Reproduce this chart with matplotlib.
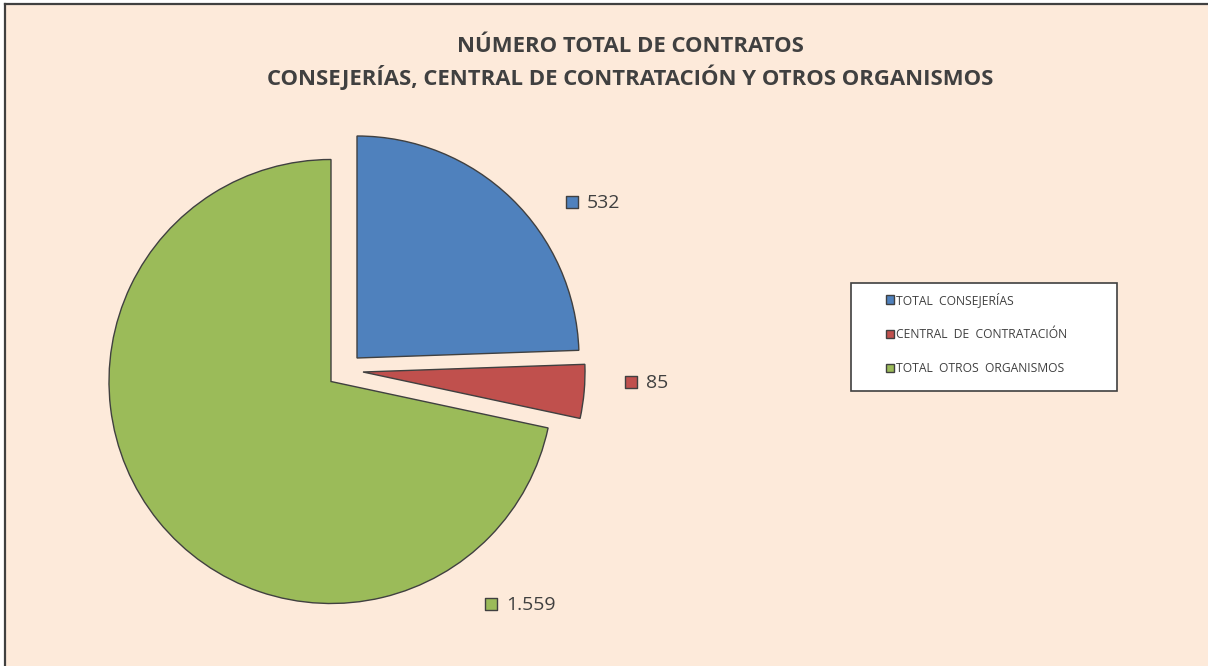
import matplotlib
matplotlib.use("Agg")
import matplotlib.pyplot as plt
from matplotlib.patches import Rectangle
from matplotlib.lines import Line2D

# ---- data ----
categories = ["TOTAL  CONSEJERÍAS", "CENTRAL  DE  CONTRATACIÓN", "TOTAL  OTROS  ORGANISMOS"]
values = [532, 85, 1559]
colors = ["#4F81BD", "#C0504D", "#9BBB59"]
title_lines = ["NÚMERO TOTAL DE CONTRATOS",
               "CONSEJERÍAS, CENTRAL DE CONTRATACIÓN Y OTROS ORGANISMOS"]

W, H = 1208, 666
BG = "#FDEADA"
EDGE = "#404040"
TXT = "#404040"

fig = plt.figure(figsize=(W / 100, H / 100), dpi=100, facecolor="white")
ax = fig.add_axes([0, 0, 1, 1])


def Y(y):
    return H - y


cx, cy, r = 331, Y(381.5), 222
wedges, _ = ax.pie(values, colors=colors, startangle=90, counterclock=False,
                   radius=r, center=(cx, cy), frame=True,
                   wedgeprops=dict(edgecolor=EDGE, linewidth=1.0))
# exploded slices (Excel-style offsets, in pixels)
slice_offsets = [(26, 23.5), (32, 9.5), (0, 0)]
for w, (dx, dy) in zip(wedges, slice_offsets):
    w.set_center((cx + dx, cy + dy))

ax.set_xlim(0, W)
ax.set_ylim(0, H)
ax.set_aspect("equal")
ax.axis("off")

# chart area background with border (left/top visible)
ax.add_patch(Rectangle((0, 0), W, H, facecolor=BG, edgecolor="none", zorder=0))
ax.add_patch(Rectangle((0, H - 3), W, 3, facecolor="white", edgecolor="none", zorder=0.5))
ax.add_patch(Rectangle((0, 0), 4, H, facecolor="white", edgecolor="none", zorder=0.5))
fig.add_artist(Line2D([4.5 / W, 4.5 / W], [0, 1 - 3.5 / H], color=EDGE, lw=1.6))
fig.add_artist(Line2D([4.5 / W, 1], [1 - 3.5 / H, 1 - 3.5 / H], color=EDGE, lw=1.6))

# title
for i, line in enumerate(title_lines):
    ax.text(630, Y(46.5 + 30.5 * i), line, ha="center", va="center",
            fontsize=15.9, fontweight="bold", family="Open Sans", color=TXT)

# data labels with square markers
label_pos = [(572, 202), (631, 382), (491, 604)]
for (mx, my), v, c in zip(label_pos, values, colors):
    txt = f"{v:,}".replace(",", ".")
    ax.scatter([mx], [Y(my)], marker="s", s=75, facecolor=c, edgecolor=EDGE,
               linewidth=1.0, zorder=5)
    ax.text(mx + 15, Y(my) - 1, txt, ha="left", va="center", fontsize=14,
            family="Open Sans", color=TXT)

# legend box
ax.add_patch(Rectangle((850.5, Y(390.5)), 266, 108, facecolor="white",
                       edgecolor=EDGE, linewidth=1.2, zorder=3))
leg = ax.legend(wedges, categories, loc="upper left",
                bbox_to_anchor=(886 / W, 1 - 292 / H),
                bbox_transform=fig.transFigure, frameon=False,
                prop=dict(family="Open Sans", size=8.7),
                handlelength=0.7, handleheight=0.7, handletextpad=0.15,
                labelspacing=1.75, borderaxespad=0, borderpad=0)
for t in leg.get_texts():
    t.set_color(TXT)
leg.set_zorder(6)

fig.savefig("out.png", dpi=100, facecolor="white")
